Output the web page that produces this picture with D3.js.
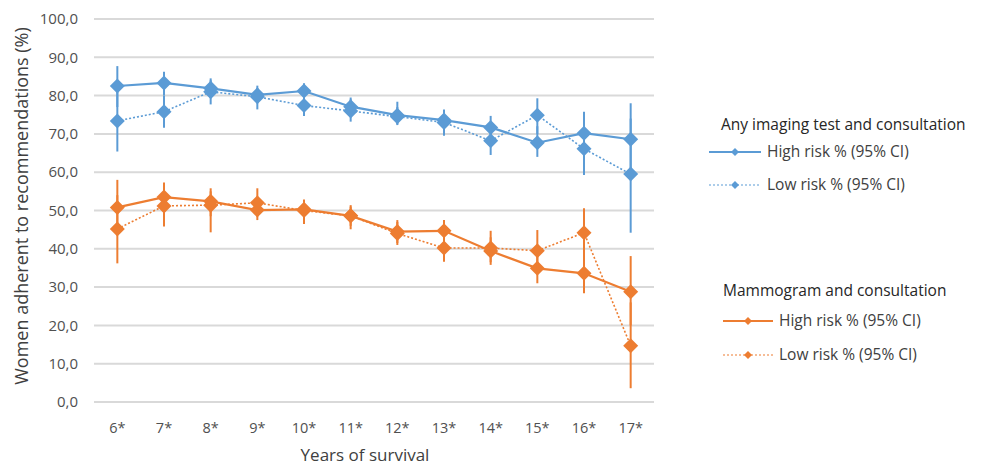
<!DOCTYPE html>
<html>
<head>
<meta charset="utf-8">
<script src="https://cdn.jsdelivr.net/npm/d3@7"></script>
<style>
  body { margin: 0; background: #fff; }
  svg { font-family: "Open Sans", "Liberation Sans", sans-serif; }
</style>
</head>
<body>
<svg width="984" height="467"></svg>
<script>
// categories
const years = ["6*", "7*", "8*", "9*", "10*", "11*", "12*", "13*", "14*", "15*", "16*", "17*"];
const yTicks = [0, 10, 20, 30, 40, 50, 60, 70, 80, 90, 100];

// any imaging test and consultation
const imgHigh = [82.5, 83.3, 81.9, 80.2, 81.2, 77.1, 74.9, 73.6, 71.7, 67.7, 70.2, 68.6];
const imgHighLo = [77.0, 80.0, 79.5, 78.0, 79.0, 75.0, 72.5, 70.5, 69.0, 64.0, 65.0, 59.0];
const imgHighHi = [87.7, 86.2, 84.5, 82.6, 83.2, 79.5, 78.4, 76.4, 74.7, 72.0, 75.8, 78.0];
const imgLow = [73.4, 75.8, 81.0, 79.7, 77.4, 76.0, 74.5, 73.0, 68.2, 74.9, 66.1, 59.5];
const imgLowLo = [65.4, 71.6, 77.7, 76.4, 74.7, 73.2, 72.3, 69.5, 64.5, 70.0, 59.3, 44.2];
const imgLowHi = [81.0, 80.0, 84.0, 82.0, 80.0, 79.0, 77.0, 76.0, 72.0, 79.3, 72.0, 74.0];

// mammogram and consultation
const mamHigh = [50.8, 53.5, 52.4, 50.1, 50.3, 48.6, 44.5, 44.7, 39.4, 34.9, 33.6, 28.8];
const mamHighLo = [44.0, 49.5, 48.5, 47.5, 48.0, 46.0, 41.5, 41.5, 35.8, 31.0, 28.4, 20.0];
const mamHighHi = [58.0, 57.3, 55.8, 52.5, 52.9, 51.4, 47.5, 47.5, 43.0, 39.0, 38.5, 38.1];
const mamLow = [45.2, 51.2, 51.4, 52.0, 50.0, 48.6, 44.0, 40.2, 40.2, 39.5, 44.2, 14.7];
const mamLowLo = [36.2, 45.8, 44.3, 48.5, 46.5, 45.1, 41.0, 36.6, 36.5, 34.5, 37.0, 3.6];
const mamLowHi = [54.0, 55.5, 55.0, 55.8, 52.5, 51.0, 47.0, 44.0, 44.7, 44.9, 50.6, 26.0];

const blue = "#5B9BD5";
const orange = "#ED7D31";

const series = [
  { vals: imgHigh, lo: imgHighLo, hi: imgHighHi, color: blue, dash: null },
  { vals: imgLow, lo: imgLowLo, hi: imgLowHi, color: blue, dash: "2,2" },
  { vals: mamHigh, lo: mamHighLo, hi: mamHighHi, color: orange, dash: null },
  { vals: mamLow, lo: mamLowLo, hi: mamLowHi, color: orange, dash: "2,2" }
];

const svg = d3.select("svg");

const x = d3.scalePoint().domain(years).range([94, 654]).padding(0.5);
const y = d3.scaleLinear().domain([0, 100]).range([402, 19]);

//gridlines
svg.append("g")
  .selectAll("line")
  .data(yTicks)
  .enter()
  .append("line")
  .attr("x1", 94)
  .attr("x2", 654)
  .attr("y1", (d) => y(d))
  .attr("y2", (d) => y(d))
  .attr("stroke", "#d9d9d9")
  .attr("stroke-width", 2);

//y tick labels
svg.append("g")
  .selectAll("text")
  .data(yTicks)
  .enter()
  .append("text")
  .attr("x", 78)
  .attr("y", (d) => y(d))
  .attr("dy", "0.35em")
  .attr("text-anchor", "end")
  .attr("font-size", 15)
  .attr("fill", "#505050")
  .text((d) => d3.format(".1f")(d).replace(".", ","));

//x tick labels
svg.append("g")
  .selectAll("text")
  .data(years)
  .enter()
  .append("text")
  .attr("x", (d) => x(d))
  .attr("y", 428)
  .attr("dy", "0.35em")
  .attr("text-anchor", "middle")
  .attr("font-size", 14.5)
  .attr("fill", "#505050")
  .text((d) => d);

//axis titles
svg.append("text")
  .attr("transform", "translate(22,206) rotate(-90)")
  .attr("text-anchor", "middle")
  .attr("dy", "0.35em")
  .attr("font-size", 18)
  .attr("fill", "#404040")
  .text("Women adherent to recommendations (%)");

svg.append("text")
  .attr("x", 365)
  .attr("y", 455)
  .attr("dy", "0.35em")
  .attr("text-anchor", "middle")
  .attr("font-size", 17)
  .attr("fill", "#404040")
  .text("Years of survival");

const diamond = (r) => `M0,${-r}L${r},0L0,${r}L${-r},0Z`;

const line = d3.line()
  .x((d, i) => x(years[i]))
  .y((d) => y(d));

series.forEach((s) => {
  const g = svg.append("g");
  //error bars
  g.selectAll("line.err")
    .data(s.vals)
    .enter()
    .append("line")
    .attr("x1", (d, i) => x(years[i]))
    .attr("x2", (d, i) => x(years[i]))
    .attr("y1", (d, i) => y(s.lo[i]))
    .attr("y2", (d, i) => y(s.hi[i]))
    .attr("stroke", s.color)
    .attr("stroke-width", 2);

  g.append("path")
    .attr("d", line(s.vals))
    .attr("fill", "none")
    .attr("stroke", s.color)
    .attr("stroke-width", s.dash ? 1.6 : 2.2)
    .attr("stroke-dasharray", s.dash);

  g.selectAll("path.pt")
    .data(s.vals)
    .enter()
    .append("path")
    .attr("transform", (d, i) => `translate(${x(years[i])},${y(d)})`)
    .attr("d", diamond(7.5))
    .attr("fill", s.color);
});

//legend
const legendData = [
  { title: "Any imaging test and consultation", tx: 721, ty: 125, lx: 709, lw: 52, y1: 152, y2: 185, color: blue },
  { title: "Mammogram and consultation", tx: 723, ty: 291, lx: 723, lw: 50, y1: 321, y2: 355, color: orange }
];

legendData.forEach((l) => {
  const g = svg.append("g");
  g.append("text")
    .attr("x", l.tx)
    .attr("y", l.ty)
    .attr("dy", "0.35em")
    .attr("font-size", 15.5)
    .attr("fill", "#262626")
    .text(l.title);
  [[l.y1, null, "High risk % (95% CI)"], [l.y2, "2,2", "Low risk % (95% CI)"]].forEach(([yy, dash, label]) => {
    g.append("line")
      .attr("x1", l.lx)
      .attr("x2", l.lx + l.lw)
      .attr("y1", yy)
      .attr("y2", yy)
      .attr("stroke", l.color)
      .attr("stroke-width", dash ? 1.2 : 2)
      .attr("stroke-dasharray", dash);
    g.append("path")
      .attr("transform", `translate(${l.lx + l.lw / 2},${yy})`)
      .attr("d", diamond(4))
      .attr("fill", l.color);
    g.append("text")
      .attr("x", l.lx + l.lw + 6)
      .attr("y", yy)
      .attr("dy", "0.35em")
      .attr("font-size", 15.5)
      .attr("fill", "#404040")
      .text(label);
  });
});
</script>
</body>
</html>
